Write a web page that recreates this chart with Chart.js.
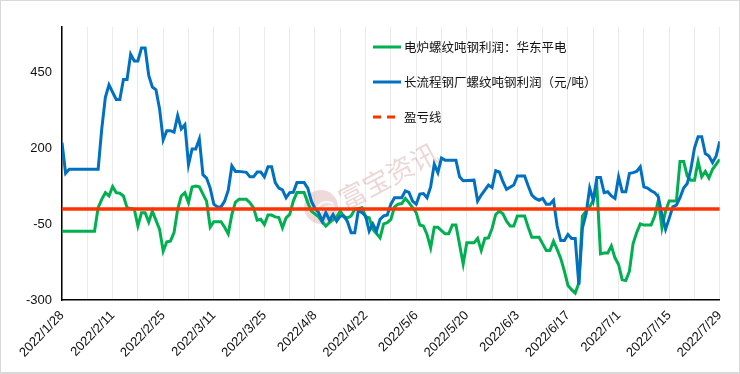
<!DOCTYPE html>
<html>
<head>
<meta charset="utf-8">
<script src="https://cdn.jsdelivr.net/npm/chart.js@4.4.1/dist/chart.umd.min.js"></script>
<style>
  html, body { margin: 0; padding: 0; background: #fff; }
  #wrap { width: 738px; height: 371px; border: 1px solid #d9d9d9; border-bottom: 2px solid #d9d9d9; position: relative; }
</style>
</head>
<body>
<div id="wrap"><canvas id="profit-chart" width="738" height="371"></canvas></div>
<script>
// days counted from 2022/1/28
const startDate = [2022, 0, 28];
const lastDay = 182;

const seriesLabels = ["电炉螺纹吨钢利润：华东平电", "长流程钢厂螺纹吨钢利润（元/吨）", "盈亏线"];

const yTicks = [-300, -50, 200, 450];

const greenDays = [
  0, 9, 10, 11, 12, 13, 14, 15, 16, 17,
  18, 20, 21, 22, 23, 24, 25, 27, 28, 29,
  30, 31, 32, 33, 34, 35, 36, 37, 38, 39,
  40, 41, 42, 44, 45, 46, 47, 48, 49, 51,
  52, 53, 54, 55, 56, 57, 58, 59, 60, 61,
  62, 63, 64, 65, 67, 68, 69, 71, 72, 73,
  74, 76, 77, 78, 79, 80, 81, 83, 84, 85,
  86, 88, 89, 90, 91, 92, 93, 94, 95, 96,
  98, 99, 100, 101, 102, 103, 104, 105, 106, 107,
  108, 109, 110, 111, 112, 114, 115, 116, 117, 118,
  119, 120, 121, 122, 123, 124, 125, 126, 128, 129,
  130, 132, 133, 134, 135, 136, 137, 138, 139, 140,
  141, 142, 143, 144, 145, 146, 147, 148, 149, 150,
  151, 152, 153, 154, 155, 156, 157, 158, 159, 160,
  161, 163, 164, 165, 166, 167, 168, 170, 171, 172,
  173, 174, 175, 176, 177, 178, 179, 180, 182
];
const greenValues = [
  -73, -73, 4, 32, 54, 43, 74, 54, 52, 43,
  4, -1, -56, -12, -12, -43, -7, -67, -139, -108,
  -106, -78, -1, 43, 54, 21, 73, 76, 73, 49,
  26, -60, -42, -42, -60, -82, -18, 23, 32, 32,
  21, 4, -37, -34, -51, -20, -20, -26, -28, -62,
  -29, -18, 26, 54, 54, 21, -7, -26, -42, -56,
  -45, -26, -7, -26, -29, -23, -1, 4, -26, -29,
  -67, -95, -49, -45, -34, 7, 16, 18, 35, 21,
  -12, -53, -56, -84, -128, -60, -60, -71, -82, -82,
  -53, -53, -117, -181, -111, -111, -97, -137, -97, -95,
  -64, -18, -7, -16, -40, -56, -56, -23, -23, -60,
  -93, -93, -115, -137, -137, -106, -133, -163, -205, -252,
  -266, -277, -244, -23, -7, 7, 29, 73, -148, -145,
  -145, -122, -161, -183, -233, -236, -205, -115, -78, -49,
  -53, -53, -23, 29, -62, -7, 26, 26, 157, 157,
  109, 95, 95, 157, 106, 124, 102, 131, 164
];

const blueDays = [
  0, 1, 2, 10, 11, 12, 13, 15, 16, 17,
  18, 19, 20, 21, 22, 23, 24, 25, 26, 27,
  28, 29, 30, 31, 32, 33, 34, 35, 36, 37,
  38, 39, 40, 41, 42, 43, 44, 45, 46, 47,
  48, 49, 51, 52, 53, 54, 55, 56, 57, 58,
  59, 60, 61, 62, 63, 64, 65, 67, 68, 69,
  70, 71, 72, 73, 74, 75, 76, 77, 78, 79,
  80, 81, 82, 83, 84, 85, 86, 87, 88, 89,
  90, 91, 92, 94, 95, 96, 97, 98, 99, 100,
  101, 102, 103, 104, 105, 106, 109, 110, 111, 114,
  115, 116, 118, 119, 120, 121, 122, 123, 125, 126,
  128, 129, 130, 131, 132, 133, 134, 135, 136, 137,
  138, 139, 140, 141, 142, 143, 144, 145, 146, 147,
  148, 149, 150, 151, 152, 153, 154, 155, 156, 157,
  158, 159, 160, 161, 162, 163, 164, 165, 166, 167,
  168, 169, 170, 171, 172, 173, 174, 175, 176, 177,
  178, 179, 180, 181, 182
];
const blueValues = [
  219, 118, 131, 131, 264, 368, 409, 361, 361, 427,
  427, 510, 488, 488, 531, 531, 440, 402, 393, 330,
  228, 258, 258, 253, 308, 264, 278, 146, 198, 198,
  231, 113, 102, 69, 16, 7, 7, 26, 62, 142,
  124, 124, 121, 106, 106, 122, 122, 106, 139, 139,
  87, 69, 63, 37, 54, 55, 87, 87, 69, 26,
  2, -12, -40, -12, -37, -18, -40, -23, -23, -42,
  -78, -78, -4, -12, -23, -73, -49, -73, -34, -23,
  -20, 16, 37, 37, 60, 55, 26, 16, 49, 51,
  37, 73, 148, 120, 168, 161, 161, 106, 93, 95,
  26, 46, 79, 71, 126, 122, 90, 65, 79, 109,
  109, 76, 46, 35, 29, 35, 16, 16, 29, -56,
  -104, -104, -84, -97, -97, -249, -62, -16, 69, 29,
  104, 104, 54, 57, 43, 35, 106, 57, 57, 117,
  120, 124, 139, 73, 69, 60, 54, 40, -18, -67,
  -31, 7, 13, 37, 69, 84, 131, 201, 238, 238,
  183, 175, 153, 175, 223
];

const breakEvenDays = [0, lastDay];
const breakEvenValues = [0, 0];

const GREEN = "#00b050";
const BLUE = "#0070c0";
const RED = "#ff3300";

function toPoints(days, values) {
  return days.map((d, i) => ({ x: d, y: values[i] }));
}

function dayLabel(day) {
  const t = new Date(startDate[0], startDate[1], startDate[2] + day);
  return t.getFullYear() + "/" + (t.getMonth() + 1) + "/" + t.getDate();
}

// legend drawn inside the plot, top right
const innerLegend = {
  id: "innerLegend",
  afterDraw(chart) {
    const ctx = chart.ctx;
    const items = [0, 1, 2];
    ctx.save();
    ctx.font = '12.5px "Noto Sans CJK SC", sans-serif';
    ctx.textBaseline = "middle";
    items.forEach((idx, row) => {
      const ds = chart.data.datasets[idx];
      const y = 46 + row * 35;
      ctx.strokeStyle = ds.borderColor;
      ctx.lineWidth = 3;
      ctx.setLineDash(idx === 2 ? [8, 6] : []);
      ctx.beginPath();
      ctx.moveTo(372, y);
      ctx.lineTo(400, y);
      ctx.stroke();
      ctx.setLineDash([]);
      ctx.fillStyle = "#111";
      ctx.fillText(ds.label, 403, y);
    });
    ctx.restore();
  },
};

// faint "富宝资讯" watermark behind the lines
const watermark = {
  id: "watermark",
  beforeDatasetsDraw(chart) {
    const ctx = chart.ctx;
    ctx.save();
    ctx.fillStyle = "rgba(205, 150, 150, 0.35)";
    ctx.beginPath();
    ctx.arc(320, 206, 17, 0, Math.PI * 2);
    ctx.fill();
    ctx.strokeStyle = "rgba(255, 255, 255, 0.8)";
    ctx.lineWidth = 2;
    ctx.beginPath();
    ctx.arc(326, 212, 11, Math.PI * 1.1, Math.PI * 1.7);
    ctx.stroke();
    ctx.beginPath();
    ctx.arc(330, 218, 13, Math.PI * 1.1, Math.PI * 1.6);
    ctx.stroke();
    ctx.translate(387, 175);
    ctx.rotate(-28 * Math.PI / 180);
    ctx.font = '27px "Noto Sans CJK SC", sans-serif';
    ctx.textAlign = "center";
    ctx.textBaseline = "middle";
    ctx.fillStyle = "rgba(205, 150, 150, 0.38)";
    ctx.fillText("富宝资讯", 0, 0);
    ctx.restore();
  },
};

new Chart(document.getElementById("profit-chart").getContext("2d"), {
  type: "line",
  data: {
    datasets: [
      {
        label: seriesLabels[0],
        data: toPoints(greenDays, greenValues),
        borderColor: GREEN,
        borderWidth: 3,
        pointRadius: 0,
        tension: 0,
        order: 2,
      },
      {
        label: seriesLabels[1],
        data: toPoints(blueDays, blueValues),
        borderColor: BLUE,
        borderWidth: 3,
        pointRadius: 0,
        tension: 0,
        order: 1,
      },
      {
        label: seriesLabels[2],
        data: toPoints(breakEvenDays, breakEvenValues),
        borderColor: RED,
        borderWidth: 3.5,
        pointRadius: 0,
        order: 0,
      },
    ],
  },
  options: {
    responsive: false,
    animation: false,
    layout: { padding: { top: 26, right: 19, left: 0, bottom: 0 } },
    plugins: {
      legend: { display: false },
      tooltip: { enabled: false },
    },
    scales: {
      x: {
        type: "linear",
        min: 0,
        max: lastDay,
        afterFit: (scale) => { scale.height = 72; },
        grid: { color: "#ebebeb", lineWidth: 1, drawTicks: false },
        border: { color: "#000", width: 1.5 },
        ticks: {
          stepSize: 7,
          autoSkip: false,
          maxTicksLimit: 100,
          minRotation: 46,
          maxRotation: 46,
          padding: 8,
          color: "#111",
          font: { family: "Liberation Sans", size: 13 },
          callback: (v) => (v % 14 === 0 ? dayLabel(v) : ""),
        },
      },
      y: {
        min: -300,
        max: 600,
        afterFit: (scale) => { scale.width = 61; },
        afterBuildTicks: (scale) => { scale.ticks = yTicks.map((v) => ({ value: v })); },
        grid: { display: false, drawTicks: false },
        border: { color: "#000", width: 1.5 },
        ticks: {
          padding: 10,
          color: "#111",
          font: { family: "Liberation Sans", size: 13 },
        },
      },
    },
  },
  plugins: [watermark, innerLegend],
});
</script>
</body>
</html>
